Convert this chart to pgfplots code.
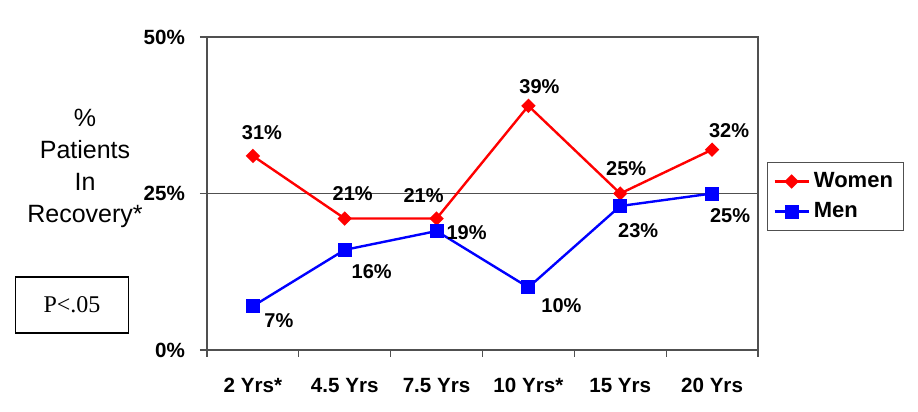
\documentclass[border=0pt]{standalone}
\usepackage{pgfplots}
\pgfplotsset{compat=1.18}
\usepackage{fontspec}
\setmainfont{Liberation Sans}
\newfontfamily\timesfont{Liberation Serif}
\definecolor{axgray}{RGB}{80,80,80}
\begin{document}
\begin{tikzpicture}
\useasboundingbox (-103.5pt,-31pt) rectangle (355.5pt,175pt);
\begin{axis}[
  at={(0,0)}, anchor=south west,
  scale only axis, width=275.5pt, height=156.5pt,
  xmin=-0.5, xmax=5.5, ymin=0, ymax=50,
  axis line style={axgray, line width=0.6pt},
  xtick={0,...,5},
  xticklabels={2 Yrs*,4.5 Yrs,7.5 Yrs,10 Yrs*,15 Yrs,20 Yrs},
  minor xtick={-0.5,0.5,...,5.5},
  major x tick style={draw=none},
  minor tick length=3.5pt,
  major tick length=3.5pt,
  tick align=outside, tick pos=left,
  tick style={axgray, line width=0.6pt},
  ytick={0,25,50},
  yticklabels={0\%,25\%,50\%},
  ymajorgrids, grid style={axgray, line width=0.6pt},
  ticklabel style={font=\bfseries\fontsize{10.3}{12}\selectfont},
  xticklabel style={yshift=-7pt},
  yticklabel style={xshift=-4pt},
  /pgf/number format/assume math mode=true,
  legend style={at={(1.0163,0.6006)}, anchor=north west, draw=axgray,
    font=\bfseries\fontsize{11}{13}\selectfont, inner xsep=3pt, inner ysep=3pt,
    row sep=2pt},
  legend cell align=left,
  every node near coord/.append style={font=\bfseries\fontsize{10}{12}\selectfont, anchor=center, black},
  visualization depends on={value \thisrow{dx}\as\dx},
  visualization depends on={value \thisrow{dy}\as\dy},
  nodes near coords={\pgfmathprintnumber{\pgfplotspointmeta}\%},
  nodes near coords style={xshift=\dx pt, yshift=\dy pt},
  point meta=y,
]
\addplot[red, line width=1.2pt, mark=square*, mark size=1.95pt, mark options={solid, fill=red, rotate=45}] table[x=x,y=y] {
x y dx dy
0 31 4.5 11.5
1 21 4 12.5
2 21 -6.5 11.5
3 39 5.5 9.5
4 25 3 12.5
5 32 8.5 9.5
};
\addlegendentry{Women}
\addplot[blue, line width=1.2pt, mark=square*, mark size=2.9pt, mark options={solid, fill=blue}] table[x=x,y=y] {
x y dx dy
0 7 13 -7
1 16 13.5 -11
2 19 15 -1
3 10 16.5 -9
4 23 9 -12.5
5 25 9 -11
};
\addlegendentry{Men}
\end{axis}
\node[align=center, font=\fontsize{12.5}{16}\selectfont] at (-61pt,91pt) {\%\\Patients\\In\\Recovery*};
\node[draw=black, line width=0.6pt, minimum width=56.5pt, minimum height=28pt, font=\timesfont\fontsize{12}{14}\selectfont] at (-67.5pt,22.5pt) {P<.05};
\end{tikzpicture}
\end{document}
